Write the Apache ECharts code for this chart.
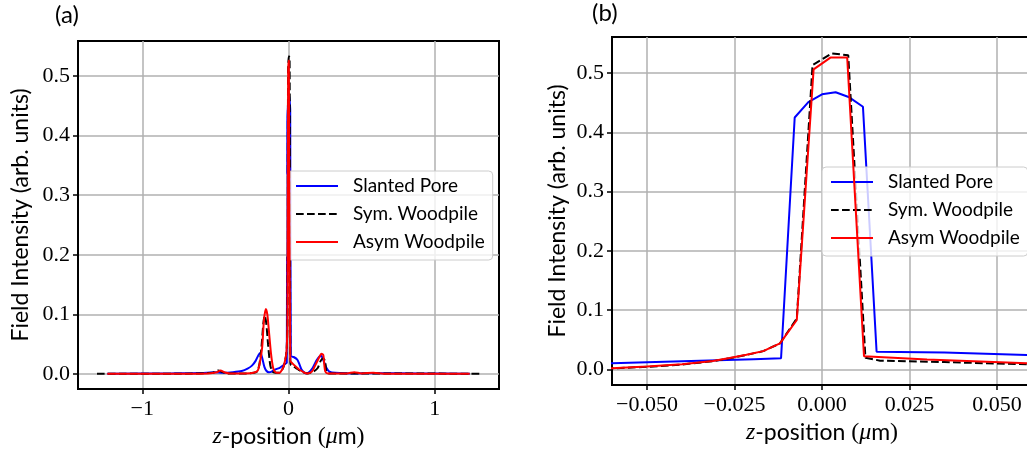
<!DOCTYPE html>
<html><head><meta charset="utf-8">
<script src="https://cdn.jsdelivr.net/npm/echarts@6/dist/echarts.min.js"></script>
<style>html,body{margin:0;padding:0;background:#fff}#c{width:1027px;height:453px}</style>
</head><body><div id="c"></div>
<script>
const seriesNames = ['Slanted Pore', 'Sym. Woodpile', 'Asym Woodpile'];

const zSlanted = [-1.24,-0.8,-0.6,-0.5,-0.45,-0.38,-0.32,-0.28,-0.25,-0.225,-0.205,-0.192,-0.18,-0.165,-0.15,-0.135,-0.115,-0.095,-0.075,-0.06,-0.04,-0.0195,-0.0117,-0.0078,-0.0039,0,0.0039,0.0078,0.0117,0.0156,0.035,0.0585,0.072,0.088,0.105,0.12,0.14,0.165,0.19,0.21,0.225,0.24,0.26,0.28,0.32,0.45,0.6,0.9,1.24];
const vSlanted = [0.0005,0.001,0.0015,0.003,0.002,0.003,0.005,0.009,0.014,0.022,0.032,0.035,0.027,0.012,0.005,0.003,0.004,0.007,0.009,0.0104,0.0139,0.0175,0.0189,0.425,0.451,0.464,0.4675,0.459,0.443,0.030,0.0285,0.0245,0.018,0.008,0.003,0.001,0.003,0.01,0.022,0.029,0.03,0.022,0.01,0.004,0.002,0.001,0.0012,0.0008,0.0005];

const zSym = [-1.31,-0.7,-0.52,-0.5,-0.48,-0.46,-0.42,-0.3,-0.22,-0.2,-0.185,-0.172,-0.163,-0.152,-0.14,-0.125,-0.11,-0.09,-0.075,-0.06,-0.05,-0.04,-0.0312,-0.0264,-0.0216,-0.0168,-0.012,-0.0072,-0.0027,0.0028,0.0075,0.0124,0.0166,0.035,0.0585,0.07,0.09,0.11,0.13,0.17,0.2,0.22,0.235,0.25,0.258,0.27,0.5,1.31];
const vSym = [0.0003,0.0005,0.002,0.004,0.006,0.004,0.001,0.001,0.003,0.015,0.045,0.085,0.098,0.085,0.05,0.015,0.004,0.002,0.002,0.002,0.0045,0.0085,0.014,0.019,0.0245,0.031,0.044,0.086,0.5135,0.533,0.530,0.02,0.0149,0.0125,0.0088,0.007,0.004,0.002,0.001,0.004,0.01,0.022,0.026,0.022,0.005,0.001,0.001,0.0003];

const zAsym = [-1.24,-0.7,-0.55,-0.49,-0.465,-0.44,-0.4,-0.3,-0.24,-0.21,-0.195,-0.18,-0.168,-0.155,-0.145,-0.135,-0.12,-0.105,-0.09,-0.075,-0.06,-0.05,-0.04,-0.0312,-0.0264,-0.0216,-0.0168,-0.012,-0.0072,-0.0024,0.0024,0.0072,0.012,0.03,0.0585,0.07,0.09,0.11,0.13,0.16,0.19,0.21,0.225,0.238,0.245,0.252,0.27,0.4,0.45,0.5,0.58,0.65,1.24];
const vAsym = [0.0003,0.0005,0.001,0.003,0.006,0.003,0.001,0.001,0.002,0.006,0.02,0.045,0.09,0.109,0.1,0.075,0.035,0.01,0.003,0.002,0.002,0.005,0.009,0.0145,0.0195,0.025,0.031,0.044,0.0835,0.506,0.526,0.526,0.0225,0.017,0.0104,0.008,0.005,0.002,0.001,0.004,0.018,0.028,0.034,0.032,0.015,0.004,0.001,0.001,0.003,0.001,0.002,0.0005,0.0003];

const ticksAX = [-1, 0, 1];
const ticksAY = [0, 0.1, 0.2, 0.3, 0.4, 0.5];
const ticksBX = [-0.05, -0.025, 0, 0.025, 0.05];
const ticksBY = [0, 0.1, 0.2, 0.3, 0.4, 0.5];

const zip = (xs, ys) => xs.map((x, i) => [x, ys[i]]);
const minus = s => s.replace('-', '\u2212');
const SERIF = 'Liberation Serif';
const SANS = 'Lato';
const tickFont = { fontFamily: SERIF, fontSize: 22, color: '#000' };

function xAxis(grid, min, max, ticks, fmt, gap) {
  return {
    type: 'value', gridIndex: grid, min: min, max: max,
    axisLine: { show: true, onZero: false, lineStyle: { color: '#000', width: 2 } },
    axisTick: { show: true, length: 5, lineStyle: { color: '#000', width: 1.5 }, customValues: ticks },
    axisLabel: Object.assign({ customValues: ticks, margin: 9, formatter: v => minus(fmt(v)) }, tickFont),
    splitLine: { show: true, lineStyle: { color: '#b0b0b0', width: 1.5 } },
    name: '{i|z}{s|-position }{r|(}{i|\u03bc}{s|m}{r|)}',
    nameLocation: 'middle', nameGap: gap,
    nameTextStyle: { rich: {
      i: { fontFamily: SERIF, fontStyle: 'italic', fontSize: 24, color: '#000' },
      s: { fontFamily: SANS, fontSize: 23, color: '#000' },
      r: { fontFamily: SERIF, fontSize: 24, color: '#000' } } }
  };
}
function yAxis(grid, min, max, ticks, gap) {
  return {
    type: 'value', gridIndex: grid, min: min, max: max,
    axisLine: { show: true, onZero: false, lineStyle: { color: '#000', width: 2 } },
    axisTick: { show: true, length: 5, lineStyle: { color: '#000', width: 1.5 }, customValues: ticks },
    axisLabel: Object.assign({ customValues: ticks, margin: 8, formatter: v => v.toFixed(1) }, tickFont),
    splitLine: { show: true, lineStyle: { color: '#b0b0b0', width: 1.5 } },
    name: 'Field Intensity (arb. units)',
    nameLocation: 'middle', nameGap: gap,
    nameTextStyle: { fontFamily: SANS, fontSize: 23, color: '#000' }
  };
}

const styles = [
  { color: '#0000ff', type: 'solid' },
  { color: '#000000', type: [7.7, 3.3] },
  { color: '#ff0000', type: 'solid' }
];
const dataSets = [zip(zSlanted, vSlanted), zip(zSym, vSym), zip(zAsym, vAsym)];

const series = [];
[0, 1].forEach(g => {
  dataSets.forEach((d, i) => {
    series.push({
      type: 'line', name: seriesNames[i], xAxisIndex: g, yAxisIndex: g,
      data: d, symbol: 'none', showSymbol: false, clip: true,
      smooth: g === 0 ? 0.25 : false,
      itemStyle: { color: styles[i].color },
      lineStyle: { color: styles[i].color, width: 2, type: styles[i].type },
      z: 2 + i
    });
  });
});

function legend(left, top) {
  return {
    data: seriesNames, orient: 'vertical', left: left, top: top,
    itemWidth: 42, itemHeight: 20, itemGap: 8,
    padding: [5, 8, 8, 8],
    itemStyle: { opacity: 0, borderWidth: 0 },
    backgroundColor: 'rgba(255,255,255,0.8)', borderColor: '#cccccc', borderWidth: 1, borderRadius: 4,
    textStyle: { fontFamily: SANS, fontSize: 19, color: '#000', lineHeight: 20, padding: [0, 0, 0, 10] },
    selectedMode: false
  };
}

const chart = echarts.init(document.getElementById('c'), null, { renderer: 'canvas' });
chart.setOption({
  animation: false,
  backgroundColor: '#fff',
  title: [
    { text: '(a)', left: 55, top: 3, padding: 0, textStyle: { fontFamily: SANS, fontSize: 24, fontWeight: 'normal', color: '#000' } },
    { text: '(b)', left: 592, top: 1, padding: 0, textStyle: { fontFamily: SANS, fontSize: 24, fontWeight: 'normal', color: '#000' } }
  ],
  grid: [
    { left: 78, top: 41, width: 421, height: 348, show: true, borderColor: '#000', borderWidth: 2, backgroundColor: 'transparent', containLabel: false, outerBoundsMode: 'none' },
    { left: 612, top: 37, width: 420, height: 348, show: true, borderColor: '#000', borderWidth: 2, backgroundColor: 'transparent', containLabel: false, outerBoundsMode: 'none' }
  ],
  xAxis: [
    xAxis(0, -1.44, 1.44, ticksAX, v => String(v), 36),
    xAxis(1, -0.06, 0.06, ticksBX, v => v.toFixed(3), 33)
  ],
  yAxis: [
    yAxis(0, -0.0252, 0.5587, ticksAY, 46),
    yAxis(1, -0.0261, 0.5607, ticksBY, 43)
  ],
  legend: [legend(287, 171), legend(822, 167)],
  series: series
});
</script></body></html>
